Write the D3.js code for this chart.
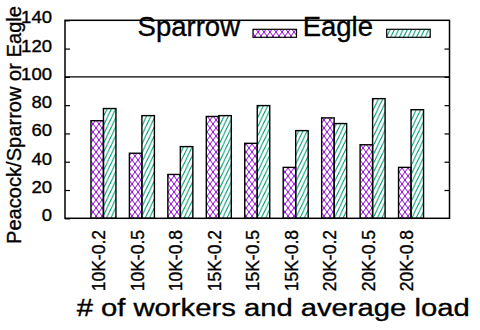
<!DOCTYPE html>
<html>
<head>
<meta charset="utf-8">
<script src="https://cdn.jsdelivr.net/npm/d3@7"></script>
<style>
  body { margin: 0; background: #fff; }
  text { font-family: "Liberation Sans", Arial, sans-serif; fill: #000; stroke: #000; stroke-width: 0.35px; }
</style>
</head>
<body>
<div id="chart"></div>
<script>
'use strict';
var categories = ['10K-0.2', '10K-0.5', '10K-0.8', '15K-0.2', '15K-0.5', '15K-0.8', '20K-0.2', '20K-0.5', '20K-0.8'];
var sparrow = [69, 46, 31, 72, 53, 36, 71, 52, 36];
var eagle = [77.6, 72.6, 50.7, 72.6, 79.7, 62, 67, 84.6, 76.8];
var yTicks = [0, 20, 40, 60, 80, 100, 120, 140];
var seriesNames = ['Sparrow', 'Eagle'];

var width = 480,
    height = 330;
var plotLeft = 65, plotRight = 449.5, plotTop = 20.3, plotBottom = 218.3;
var barW = 0.325;

var svg = d3.select('#chart').append('svg')
    .attr('width', width)
    .attr('height', height);

// hatch patterns, gnuplot style
var defs = svg.append('defs');
var p1 = defs.append('pattern').attr('id', 'pat-sparrow')
    .attr('patternUnits', 'userSpaceOnUse').attr('width', 6).attr('height', 8);
p1.append('path').attr('d', 'M0,0L6,8M6,0L0,8')
    .attr('stroke', '#9400d3').attr('stroke-width', 1).attr('fill', 'none');
var p2 = defs.append('pattern').attr('id', 'pat-eagle')
    .attr('patternUnits', 'userSpaceOnUse').attr('width', 4.3).attr('height', 9);
p2.append('path').attr('d', 'M0,9L4.3,0M-4.3,9L0,0M4.3,9L8.6,0')
    .attr('stroke', '#009e73').attr('stroke-width', 1.1).attr('fill', 'none');
var fills = ['url(#pat-sparrow)', 'url(#pat-eagle)'];

var x = d3.scaleLinear().domain([-1, categories.length]).range([plotLeft, plotRight]);
var y = d3.scaleLinear().domain([0, 140]).range([plotBottom, plotTop]);

// reference line at 100
svg.append('line')
    .attr('x1', plotLeft).attr('x2', plotRight)
    .attr('y1', y(100)).attr('y2', y(100))
    .attr('stroke', '#000').attr('stroke-width', 1.2);

// bars
var groups = svg.selectAll('g.grp').data(categories).enter()
    .append('g').attr('class', 'grp');
groups.append('rect')
    .attr('x', function (d, i) { return x(i - barW); })
    .attr('y', function (d, i) { return y(sparrow[i]); })
    .attr('width', function () { return x(barW) - x(0); })
    .attr('height', function (d, i) { return y(0) - y(sparrow[i]); })
    .attr('fill', fills[0]).attr('stroke', '#000').attr('stroke-width', 1.4);
groups.append('rect')
    .attr('x', function (d, i) { return x(i); })
    .attr('y', function (d, i) { return y(eagle[i]); })
    .attr('width', function () { return x(barW) - x(0); })
    .attr('height', function (d, i) { return y(0) - y(eagle[i]); })
    .attr('fill', fills[1]).attr('stroke', '#000').attr('stroke-width', 1.4);

// axes
var yAxis = svg.append('g').attr('transform', 'translate(' + plotLeft + ',0)')
    .call(d3.axisLeft(y).tickValues(yTicks).tickSizeInner(-5).tickSizeOuter(0).tickPadding(13));
yAxis.select('.domain').remove();
yAxis.selectAll('line').attr('stroke-width', 1.2);
yAxis.selectAll('text')
    .attr('font-size', 16.5)
    .attr('font-family', '"Liberation Sans", Arial, sans-serif')
    .attr('dy', 0).attr('y', 2.5)
    .attr('textLength', function (d) { return String(d).length * 10.3; })
    .attr('lengthAdjust', 'spacingAndGlyphs');

var yAxisR = svg.append('g').attr('transform', 'translate(' + plotRight + ',0)')
    .call(d3.axisRight(y).tickValues(yTicks.slice(1, -1)).tickSizeInner(-5).tickSizeOuter(0).tickFormat(''));
yAxisR.select('.domain').remove();
yAxisR.selectAll('line').attr('stroke-width', 1.2);

// frame
svg.append('rect')
    .attr('x', plotLeft).attr('y', plotTop)
    .attr('width', plotRight - plotLeft).attr('height', plotBottom - plotTop)
    .attr('fill', 'none').attr('stroke', '#000').attr('stroke-width', 1.5);

// category labels, rotated
svg.selectAll('text.cat').data(categories).enter()
    .append('text').attr('class', 'cat')
    .attr('transform', function (d, i) { return 'translate(' + (x(i) + 2) + ',230) rotate(-90)'; })
    .attr('text-anchor', 'end')
    .attr('font-size', 17.5)
    .text(function (d) { return d; });

// legend
var legendEnds = [240, 373];
var legendBoxes = [253, 386.7];
seriesNames.forEach(function (name, i) {
    svg.append('text')
        .attr('x', legendEnds[i]).attr('y', 36)
        .attr('text-anchor', 'end')
        .attr('font-size', 27.5)
        .text(name);
    svg.append('rect')
        .attr('x', legendBoxes[i]).attr('y', 29.3)
        .attr('width', 43.5).attr('height', 8)
        .attr('fill', fills[i]).attr('stroke', '#000').attr('stroke-width', 1.2);
});

// axis titles
svg.append('text')
    .attr('x', 76.7).attr('y', 316)
    .attr('font-size', 23.5)
    .attr('textLength', 393).attr('lengthAdjust', 'spacingAndGlyphs')
    .text('# of workers and average load');

svg.append('text')
    .attr('transform', 'translate(21,244) rotate(-90)')
    .attr('font-size', 20.5)
    .attr('textLength', 238).attr('lengthAdjust', 'spacingAndGlyphs')
    .text('Peacock/Sparrow or Eagle');
</script>
</body>
</html>
